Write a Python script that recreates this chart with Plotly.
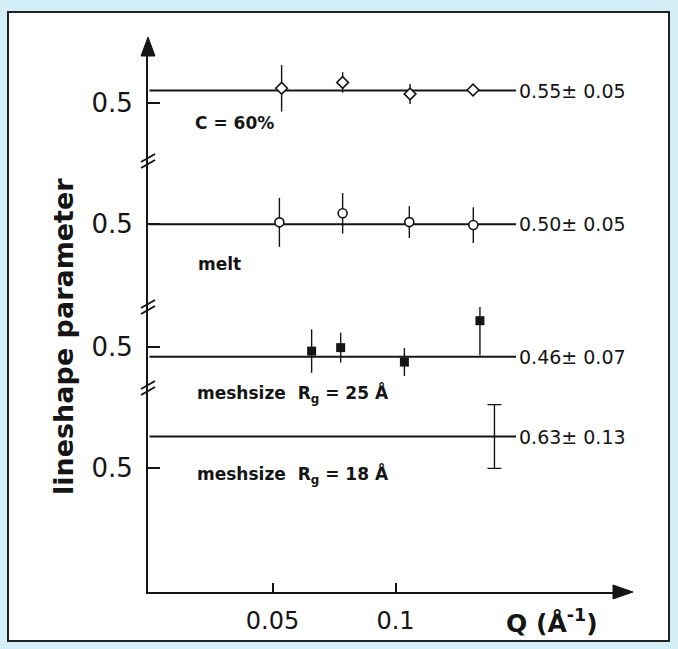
import plotly.graph_objects as go

# ---------------- data ----------------
q_c60 = [0.0537, 0.0785, 0.1059, 0.1315]
v_c60 = [0.559, 0.583, 0.536, 0.552]
e_c60 = [0.095, 0.042, 0.041, 0.010]

q_melt = [0.0528, 0.0785, 0.1056, 0.1316]
v_melt = [0.508, 0.545, 0.509, 0.497]
e_melt = [0.100, 0.083, 0.065, 0.073]

q_rg25 = [0.0659, 0.0777, 0.1036, 0.1343]
v_rg25 = [0.483, 0.497, 0.438, 0.607]
e_rg25 = [0.089, 0.061, 0.057, 0.142]

q_rg18 = [0.1402]
v_rg18 = [0.63]
e_rg18 = [0.13]

fit_values = [0.55, 0.50, 0.46, 0.63]
fit_errors = ["0.05", "0.05", "0.07", "0.13"]
fit_labels = ["0.55", "0.50", "0.46", "0.63"]
fit_q_range = [0.0, 0.149]

panel_names = ["C = 60%", "melt", "meshsize  R<sub>g</sub> = 25 Å", "meshsize  R<sub>g</sub> = 18 Å"]
x_tickvals = [0.05, 0.1]
x_ticktext = ["0.05", "0.1"]
y_tickvals = [0.5]
y_ticktext = ["0.5"]

# ---------------- layout geometry ----------------
W, H = 678, 649
L, R, T, B = 148, 61, 54, 57
PW, PH = W - L - R, H - T - B


def px(xp):
    return (xp - L) / PW


def py(yp):
    return (H - B - yp) / PH


INK = "#151515"
fig = go.Figure()

yrefs = ["y", "y2", "y3", "y4"]
series = [
    (q_c60, v_c60, e_c60, dict(symbol="diamond", size=9, color="white", line=dict(color=INK, width=1.6))),
    (q_melt, v_melt, e_melt, dict(symbol="circle", size=9, color="white", line=dict(color=INK, width=1.6))),
    (q_rg25, v_rg25, e_rg25, dict(symbol="square", size=9, color=INK, line=dict(color=INK, width=0))),
    (q_rg18, v_rg18, e_rg18, dict(symbol="line-ew", size=0.1, color=INK, line=dict(color=INK, width=0))),
]

for i, (q, v, e, mk) in enumerate(series):
    yr = yrefs[i]
    fig.add_trace(go.Scatter(
        x=fit_q_range, y=[fit_values[i], fit_values[i]], mode="lines",
        line=dict(color=INK, width=2), xaxis="x", yaxis=yr, showlegend=False,
        hoverinfo="skip"))
    fig.add_trace(go.Scatter(
        x=q, y=v, mode="markers", marker=mk,
        error_y=dict(type="data", array=e, visible=True, color=INK,
                     thickness=1.4, width=(7 if i == 3 else 0)),
        xaxis="x", yaxis=yr, showlegend=False))

domains = [[0.8011, 1.0], [0.5297, 0.8011], [0.3792, 0.5297], [0.0, 0.3792]]
ranges = [[0.2622, 0.699], [0.1624, 0.7584], [0.3322, 0.6629], [-0.0047, 0.828]]

tickfont = dict(family="DejaVu Sans", size=26, color=INK)
for i in range(4):
    key = "yaxis" if i == 0 else f"yaxis{i+1}"
    fig.layout[key] = dict(
        domain=domains[i], range=ranges[i], anchor="x",
        showline=True, linecolor=INK, linewidth=2,
        ticks="inside", ticklen=12, tickwidth=1.5, tickcolor=INK,
        tickvals=y_tickvals, ticktext=y_ticktext, tickfont=tickfont,
        ticklabelstandoff=8,
        showgrid=False, zeroline=False, fixedrange=True)

fig.update_layout(
    xaxis=dict(domain=[0, 1], range=[-0.0006, 0.19], anchor="y4",
               showline=True, linecolor=INK, linewidth=2,
               ticks="inside", ticklen=9, tickwidth=1.5, tickcolor=INK,
               tickvals=x_tickvals, ticktext=x_ticktext,
               tickfont=dict(family="DejaVu Sans", size=24, color=INK),
               ticklabelstandoff=6,
               showgrid=False, zeroline=False, fixedrange=True),
    width=W, height=H,
    margin=dict(l=L, r=R, t=T, b=B),
    paper_bgcolor="#d3eef6", plot_bgcolor="white",
    showlegend=False,
)

shapes = []
# white panel with border
shapes.append(dict(type="rect", xref="paper", yref="paper",
                   x0=px(8), x1=px(669), y0=py(641), y1=py(12),
                   fillcolor="white", line=dict(color="#222", width=2), layer="below"))
# arrow heads
shapes.append(dict(type="path", xref="paper", yref="paper",
                   path=f"M {px(148)} {py(37)} L {px(141)} {py(56)} L {px(155)} {py(56)} Z",
                   fillcolor=INK, line=dict(color=INK, width=1)))
shapes.append(dict(type="path", xref="paper", yref="paper",
                   path=f"M {px(633)} {py(592)} L {px(613)} {py(585)} L {px(613)} {py(599)} Z",
                   fillcolor=INK, line=dict(color=INK, width=1)))
# axis break marks
for yb in [161, 307, 388]:
    for d in (-3, 3):
        shapes.append(dict(type="line", xref="paper", yref="paper",
                           x0=px(141), y0=py(yb + d + 4), x1=px(155), y1=py(yb + d - 4),
                           line=dict(color=INK, width=2)))
fig.update_layout(shapes=shapes)

ann = []
# fit result labels
for i in range(4):
    ann.append(dict(x=fit_q_range[1], y=fit_values[i], xref="x", yref=yrefs[i],
                    text=f"{fit_labels[i]}± {fit_errors[i]}", showarrow=False,
                    xanchor="left", yanchor="middle", xshift=1,
                    font=dict(family="DejaVu Sans", size=19, color=INK)))
# panel names
name_pos = [(193, 123), (196, 264), (195, 393), (195, 474)]
for i, (xp, yp) in enumerate(name_pos):
    ann.append(dict(x=px(xp), y=py(yp), xref="paper", yref="paper",
                    text=f"<b>{panel_names[i]}</b>", showarrow=False,
                    xanchor="left", yanchor="middle",
                    font=dict(family="DejaVu Sans", size=17, color=INK)))
# axis titles
ann.append(dict(x=px(63), y=py(337), xref="paper", yref="paper",
                text="<b>lineshape parameter</b>", showarrow=False, textangle=-90,
                xanchor="center", yanchor="middle",
                font=dict(family="DejaVu Sans", size=27, color=INK)))
ann.append(dict(x=px(552), y=py(621), xref="paper", yref="paper",
                text="<b>Q (Å<sup>-1</sup>)</b>", showarrow=False,
                xanchor="center", yanchor="middle",
                font=dict(family="DejaVu Sans", size=25, color=INK)))
fig.update_layout(annotations=ann)

fig.write_html(
    "out.html",
    config={"displayModeBar": False},
    post_script="document.body.style.margin='0';document.body.style.overflow='hidden';",
)
